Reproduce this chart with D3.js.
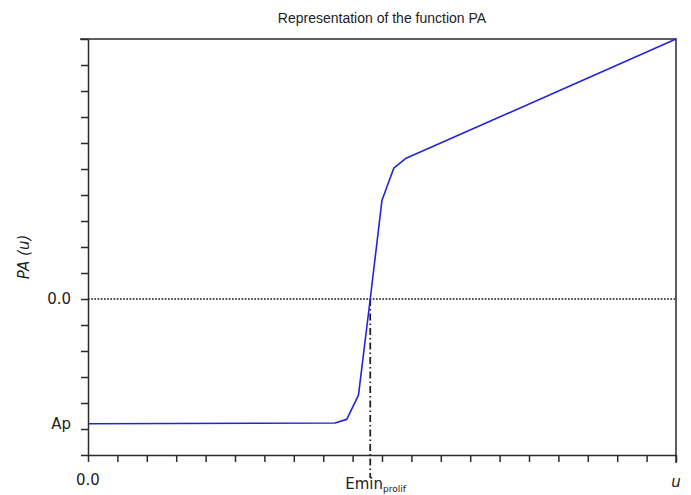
<!DOCTYPE html>
<html>
<head>
<meta charset="utf-8">
<script src="https://cdn.jsdelivr.net/npm/d3@7"></script>
<style>
  html, body { margin: 0; padding: 0; background: #fff; }
  svg { display: block; }
  .lbl { font-family: "DejaVu Sans", Verdana, sans-serif; font-size: 15px; fill: #222; }
  .title { font-family: "Liberation Sans", Arial, sans-serif; font-size: 14px; fill: #222; }
</style>
</head>
<body>
<script>
// Piecewise-linear PA(u): flat at Ap, steep rise through zero at Emin_prolif, then linear growth
const uValues  = [0, 8.4, 8.8, 9.2, 9.6, 10.0, 10.4, 10.8, 20];
const paValues = [-4.8, -4.77, -4.63, -3.7, 0, 3.8, 5.03, 5.4, 10];

const apValue = -4.8;
const eminProlif = 9.6;

const xDomain = [0, 20];
const yDomain = [-6, 10];
const xTickValues = d3.range(0, 21, 1);
const yTickValues = d3.range(-6, 11, 1);

const W = 691, H = 495;
const margin = { left: 88, right: 15, top: 39, bottom: 40 };

const svg = d3.select("body").append("svg")
  .attr("width", W).attr("height", H);

const x = d3.scaleLinear().domain(xDomain).range([margin.left, W - margin.right]);
const y = d3.scaleLinear().domain(yDomain).range([H - margin.bottom, margin.top]);

const axisColor = "#2a2a2a";

// Title
svg.append("text").attr("class", "title")
  .attr("x", (x.range()[0] + x.range()[1]) / 2)
  .attr("y", 23)
  .attr("text-anchor", "middle")
  .text("Representation of the function PA");

// Zero reference line (dotted)
svg.append("line")
  .attr("x1", x(xDomain[0])).attr("x2", x(xDomain[1]))
  .attr("y1", y(0)).attr("y2", y(0))
  .attr("stroke", "#111").attr("stroke-width", 1.7)
  .attr("stroke-dasharray", "1.7,1.5");

// Emin_prolif marker (dash-dot), from zero line down below the axis
svg.append("line")
  .attr("x1", x(eminProlif)).attr("x2", x(eminProlif))
  .attr("y1", y(0)).attr("y2", y(yDomain[0]) + 23)
  .attr("stroke", "#222").attr("stroke-width", 1.8)
  .attr("stroke-dasharray", "7,3,1.5,3");

// Frame: top and right edges
svg.append("path")
  .attr("d", `M${x(xDomain[0]) - 8},${y(yDomain[1])} H${x(xDomain[1])} V${y(yDomain[0]) + 8}`)
  .attr("fill", "none").attr("stroke", axisColor).attr("stroke-width", 1.5);

// Axes with outward ticks and no numeric labels
const gx = svg.append("g")
  .attr("transform", `translate(0,${y(yDomain[0])})`)
  .call(d3.axisBottom(x).tickValues(xTickValues).tickSize(7).tickSizeOuter(0).tickFormat(""));
const gy = svg.append("g")
  .attr("transform", `translate(${x(xDomain[0])},0)`)
  .call(d3.axisLeft(y).tickValues(yTickValues).tickSize(7).tickSizeOuter(0).tickFormat(""));
[gx, gy].forEach(g => {
  g.selectAll("path.domain").attr("stroke", axisColor).attr("stroke-width", 1.5);
  g.selectAll(".tick line").attr("stroke", axisColor).attr("stroke-width", 1.5);
});

// The PA curve
const line = d3.line().x((d, i) => x(uValues[i])).y(d => y(d));
svg.append("path")
  .datum(paValues)
  .attr("d", line)
  .attr("fill", "none")
  .attr("stroke", "#2323dc")
  .attr("stroke-width", 1.6)
  .attr("stroke-linejoin", "round");

// Y labels
svg.append("text").attr("class", "lbl")
  .attr("x", x(xDomain[0]) - 17).attr("y", y(0))
  .attr("dy", "0.36em").attr("text-anchor", "end").text("0.0");
svg.append("text").attr("class", "lbl")
  .attr("x", x(xDomain[0]) - 17).attr("y", y(apValue))
  .attr("dy", "0.36em").attr("text-anchor", "end").text("Ap");

// X labels
svg.append("text").attr("class", "lbl")
  .attr("x", x(xDomain[0])).attr("y", 485)
  .attr("text-anchor", "middle").text("0.0");
svg.append("text").attr("class", "lbl")
  .attr("x", x(xDomain[1])).attr("y", 487)
  .attr("text-anchor", "middle").attr("font-style", "italic").text("u");

const emin = svg.append("text").attr("class", "lbl")
  .attr("x", x(eminProlif) - 25).attr("y", 489);
emin.append("tspan").text("Emin");
emin.append("tspan").attr("dy", 3).attr("font-size", "9px").text("prolif");

// Y axis title
svg.append("text").attr("class", "lbl")
  .attr("transform", `translate(29,${257}) rotate(-90)`)
  .attr("text-anchor", "middle").attr("font-style", "italic")
  .text("PA (u)");
</script>
</body>
</html>
